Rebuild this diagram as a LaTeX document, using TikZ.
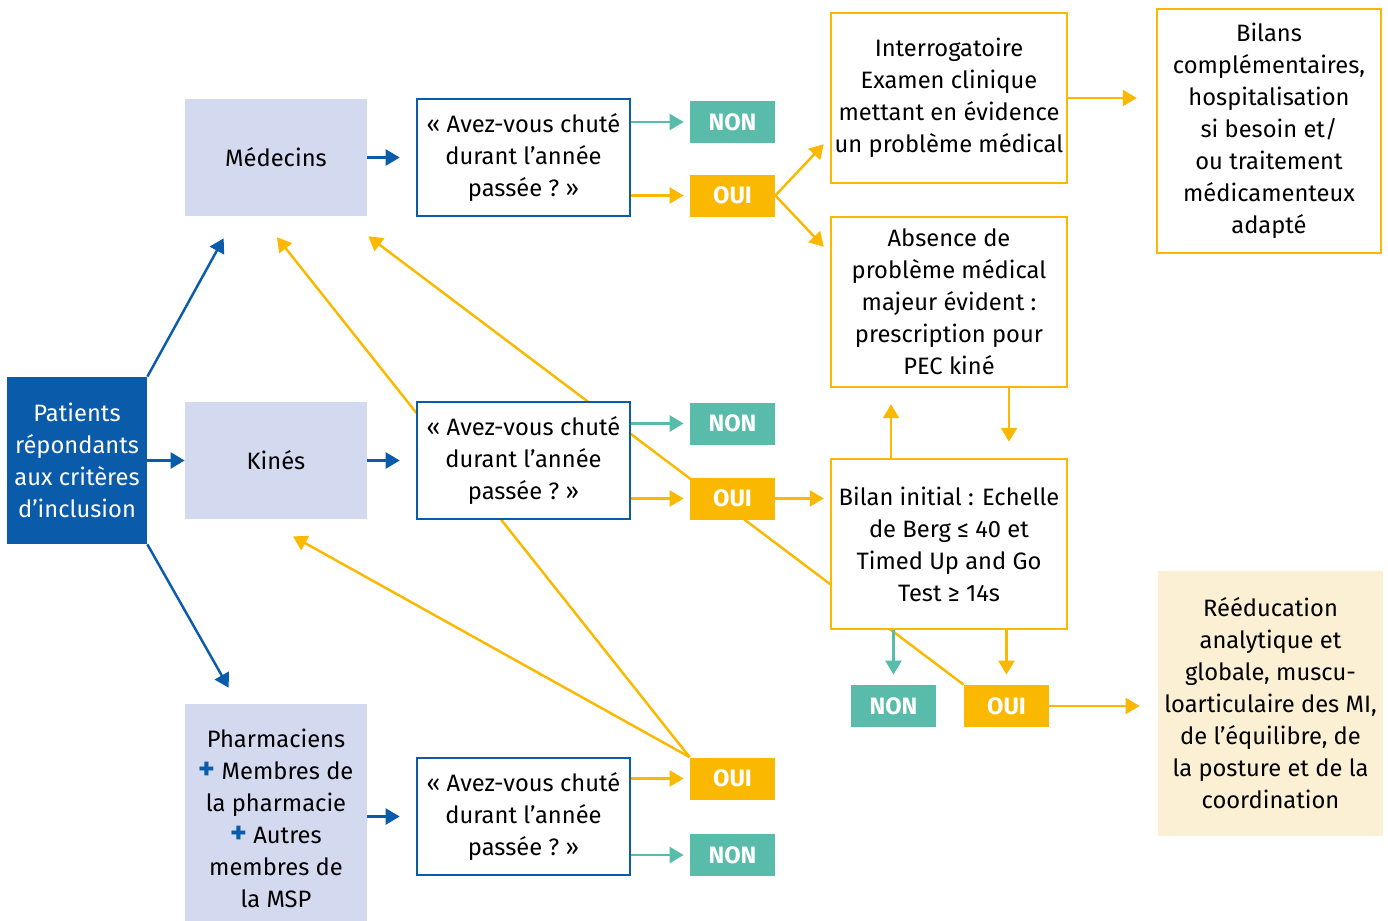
\documentclass[tikz,border=0pt]{standalone}
\usepackage{fontspec}
\setmainfont{Fira Sans}
\usetikzlibrary{arrows.meta,positioning,backgrounds}
\definecolor{bleuFonce}{HTML}{0A5BA9}
\definecolor{lavande}{HTML}{D3D9EE}
\definecolor{vertNon}{HTML}{59BBA9}
\definecolor{jaune}{HTML}{FAB900}
\definecolor{creme}{HTML}{FBF0D3}
\tikzset{%
  >={Triangle[width=3.2mm,length=2.8mm]},
  % Specifications for style of nodes:
        base/.style = {rectangle, inner sep=0pt, align=center,
                       font=\fontsize{13.5}{18.2}\selectfont},
     patient/.style = {base, fill=bleuFonce, text=white,
                       minimum width=2.8cm, minimum height=3.34cm},
      metier/.style = {base, fill=lavande,
                       minimum width=3.64cm, minimum height=2.34cm},
    question/.style = {base, draw=bleuFonce, line width=1.5pt, fill=white,
                       minimum width=4.26cm, minimum height=2.34cm},
     reponse/.style = {base, text=white, minimum width=1.7cm, minimum height=0.84cm,
                       font=\fontsize{13.5}{16}\selectfont\bfseries},
         non/.style = {reponse, fill=vertNon},
         oui/.style = {reponse, fill=jaune},
       etape/.style = {base, draw=jaune, line width=1.4pt, fill=white,
                       minimum width=4.72cm, minimum height=3.4cm},
}
\newcommand{\chute}{«~Avez-vous chuté\\durant l’année\\passée~?~»}
\newcommand{\plus}{\textcolor{bleuFonce}{\fontsize{18}{18}\selectfont\bfseries +}}

\begin{document}
\begin{tikzpicture}[node distance=1.5cm]
  \useasboundingbox (0,0) rectangle (27.76,-18.42);
  % Specification of nodes (position, etc.)
  \node (pat)   [patient] at (1.54,-9.21)      {Patients\\répondants\\aux critères\\d’inclusion};
  \node (kine)  [metier, right of=pat, node distance=3.98cm]  {Kinés};
  \node (med)   [metier, above of=kine, node distance=6.06cm] {Médecins};
  \node (pharm) [metier, below of=kine, node distance=7.15cm, minimum height=4.56cm]
                {Pharmaciens\\\plus{} Membres de\\la pharmacie\\\plus{} Autres\\membres de\\la MSP};
  \node (q1)    [question, right of=med, node distance=4.95cm]   {\chute};
  \node (q2)    [question, right of=kine, node distance=4.95cm]  {\chute};
  \node (q3)    [question, right of=pharm, node distance=4.95cm, yshift=0.03cm] {\chute};
  \node (non1)  [non, right of=q1, node distance=4.18cm, yshift=0.71cm]  {NON};
  \node (oui1)  [oui, right of=q1, node distance=4.18cm, yshift=-0.76cm] {OUI};
  \node (non2)  [non, right of=q2, node distance=4.18cm, yshift=0.74cm]  {NON};
  \node (oui2)  [oui, right of=q2, node distance=4.18cm, yshift=-0.76cm] {OUI};
  \node (oui3)  [oui, right of=q3, node distance=4.18cm, yshift=0.76cm]  {OUI};
  \node (non3)  [non, right of=q3, node distance=4.18cm, yshift=-0.77cm] {NON};
  \node (interro) [etape] at (18.98,-1.96)
                {Interrogatoire\\Examen clinique\\mettant en évidence\\un problème médical};
  \node (absence) [etape, below of=interro, node distance=4.08cm]
                {Absence de\\problème médical\\majeur évident :\\prescription pour\\PEC kiné};
  \node (bilinit) [etape, below of=absence, node distance=4.84cm]
                {Bilan initial : Echelle\\de Berg ≤ 40 et\\Timed Up and Go\\Test ≥ 14s};
  \node (bilans)  [etape, minimum width=4.48cm, minimum height=4.88cm] at (25.38,-2.62)
                {Bilans\\complémentaires,\\hospitalisation\\si besoin et/\\ou traitement\\médicamenteux\\adapté};
  \node (non4)  [non, below of=bilinit, node distance=3.24cm, xshift=-1.11cm] {NON};
  \node (oui4)  [oui, below of=bilinit, node distance=3.24cm, xshift=1.15cm]  {OUI};
  \node (reed)  [base, fill=creme, minimum width=4.5cm, minimum height=5.3cm] at (25.41,-14.07)
                {Rééducation\\analytique et\\globale, muscu-\\loarticulaire des MI,\\de l’équilibre, de\\la posture et de la\\coordination};
  % free ends of the arrows
  \coordinate (medA)   at ([xshift=0.78cm,yshift=-0.44cm]med.south west);
  \coordinate (medB)   at ([xshift=0.02cm,yshift=-0.4cm]med.south east);
  \coordinate (medC)   at ([xshift=0.02cm,yshift=-0.42cm]med.south);
  \coordinate (kineA)  at ([xshift=0.34cm,yshift=-0.34cm]kine.south);
  \coordinate (pharmA) at ([xshift=0.88cm,yshift=0.32cm]pharm.north west);
  \coordinate (interroA) at ([xshift=-0.12cm,yshift=0.8cm]interro.south west);
  \coordinate (absA)   at ([xshift=-0.12cm,yshift=-0.62cm]absence.north west);
  % lines between nodes
  \begin{scope}[line width=1.4pt, bleuFonce]
    \draw[->] (pat.north east) -- (medA);
    \draw[->] (pat.east) -- (kine.west);
    \draw[->] (pat.south east) -- (pharmA);
    \draw[->, shorten >=0.32cm] (med.east) -- (q1.west);
    \draw[->, shorten >=0.32cm] (kine.east) -- (q2.west);
    \draw[->, shorten >=0.32cm] (pharm.east |- q3.west) -- (q3.west);
  \end{scope}
  \begin{scope}[line width=1.4pt, vertNon, shorten >=0.12cm]
    \draw[->] (q1.east |- non1.west) -- (non1.west);
    \draw[->] (q2.east |- non2.west) -- (non2.west);
    \draw[->] (q3.east |- non3.west) -- (non3.west);
    \draw[->, shorten >=0.2cm] (bilinit.south -| non4) -- (non4.north);
  \end{scope}
  \begin{scope}[line width=1.4pt, jaune]
    \draw[->, shorten >=0.12cm] (q1.east |- oui1.west) -- (oui1.west);
    \draw[->, shorten >=0.12cm] (q2.east |- oui2.west) -- (oui2.west);
    \draw[->, shorten >=0.12cm] (q3.east |- oui3.west) -- (oui3.west);
    \draw[->] (oui1.east) -- (interroA);
    \draw[->] (oui1.east) -- (absA);
    \draw[->, shorten >=0.38cm] (interro.east) -- (interro.east -| bilans.west);
    \draw[->, shorten >=0.12cm] (oui2.east) -- (oui2.east -| bilinit.west);
    \draw[->, shorten >=0.32cm] ([xshift=-1.16cm]bilinit.north) -- ([xshift=-1.16cm]absence.south);
    \draw[->, shorten >=0.32cm] ([xshift=1.2cm]absence.south) -- ([xshift=1.2cm]bilinit.north);
    \draw[->, shorten >=0.2cm] (bilinit.south -| oui4) -- (oui4.north);
    \draw[->, shorten >=0.36cm] (oui4.east) -- (oui4.east -| reed.west);
  \end{scope}
  % back to the professionals
  \begin{pgfonlayer}{background}
    \begin{scope}[line width=1.4pt, jaune]
      \draw[->] (oui4.north west) -- (medB);
      \draw[->] (oui3.north west) -- (medC);
      \draw[->] (oui3.north west) -- (kineA);
    \end{scope}
  \end{pgfonlayer}
\end{tikzpicture}
\end{document}
